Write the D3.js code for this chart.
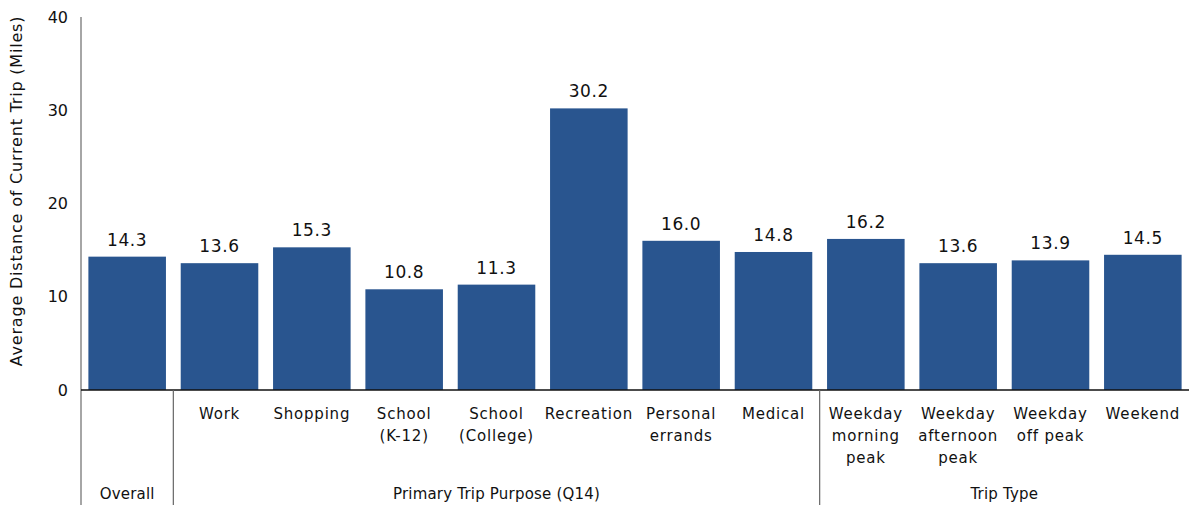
<!DOCTYPE html>
<html><head><meta charset="utf-8">
<script src="https://cdn.jsdelivr.net/npm/d3@7"></script>
<style>body{margin:0;background:#fff}svg{display:block}text{font-family:"DejaVu Sans",sans-serif;fill:#111}</style>
</head><body><svg id="c" width="1189" height="505"></svg>
<script>
const categories = ["","Work","Shopping","School\n(K-12)","School\n(College)","Recreation","Personal\nerrands","Medical","Weekday\nmorning\npeak","Weekday\nafternoon\npeak","Weekday\noff peak","Weekend"];
const values = [14.3,13.6,15.3,10.8,11.3,30.2,16.0,14.8,16.2,13.6,13.9,14.5];
const groups = [{name:"Overall",start:0,end:0},{name:"Primary Trip Purpose (Q14)",start:1,end:7},{name:"Trip Type",start:8,end:11}];
const yTicks = [0,10,20,30,40];

const svg = d3.select("#c");
const x = d3.scaleBand().domain(d3.range(categories.length)).range([81,1189]).paddingInner(0.16).paddingOuter(0.08);
const y = d3.scaleLinear().domain([0,40]).range([390,17]);

svg.append("line").attr("x1",81).attr("x2",81).attr("y1",17).attr("y2",505).attr("stroke","#888").attr("stroke-width",1.5);

svg.selectAll("rect.bar").data(values).join("rect").attr("class","bar")
  .attr("x",(d,i)=>x(i)).attr("width",x.bandwidth())
  .attr("y",d=>y(d)).attr("height",d=>y(0)-y(d)).attr("fill","#29558F");

svg.selectAll("text.val").data(values).join("text").attr("class","val")
  .attr("x",(d,i)=>x(i)+x.bandwidth()/2).attr("y",d=>y(d)-11)
  .attr("text-anchor","middle").attr("font-size",17).attr("letter-spacing",0.6).text(d=>d.toFixed(1));

const yAxis = d3.axisLeft(y).tickValues(yTicks).tickSize(0).tickPadding(13);
const ga = svg.append("g").attr("transform","translate(81,0)").call(yAxis);
ga.select(".domain").remove();
ga.selectAll("text").attr("font-size",16).attr("font-family","DejaVu Sans").attr("fill","#111");

svg.append("line").attr("x1",81).attr("x2",1189).attr("y1",y(0)).attr("y2",y(0)).attr("stroke","#111").attr("stroke-width",1.5);

svg.append("text").attr("transform","translate(22,"+191+") rotate(-90)")
  .attr("text-anchor","middle").attr("font-size",16).attr("letter-spacing",0.8).text("Average Distance of Current Trip (Miles)");

categories.forEach((c,i)=>{
  const t = svg.append("text").attr("x",x(i)+x.bandwidth()/2).attr("y",419).attr("text-anchor","middle").attr("font-size",15).attr("letter-spacing",0.8);
  c.split("\n").forEach((ln,k)=>{ t.append("tspan").attr("x",x(i)+x.bandwidth()/2).attr("dy",k?22:0).text(ln); });
});

const step = x.step();
groups.forEach((g,gi)=>{
  const left = gi===0 ? 81 : x(g.start) - step*x.paddingInner()/2;
  const right = gi===groups.length-1 ? 1189 : x(g.end)+x.bandwidth()+step*x.paddingInner()/2;
  if(gi>0) svg.append("line").attr("x1",left).attr("x2",left).attr("y1",y(0)).attr("y2",505).attr("stroke","#666").attr("stroke-width",1.2);
  svg.append("text").attr("x",(left+right)/2).attr("y",499).attr("text-anchor","middle").attr("font-size",15).attr("letter-spacing",0.2).text(g.name);
});
</script></body></html>
